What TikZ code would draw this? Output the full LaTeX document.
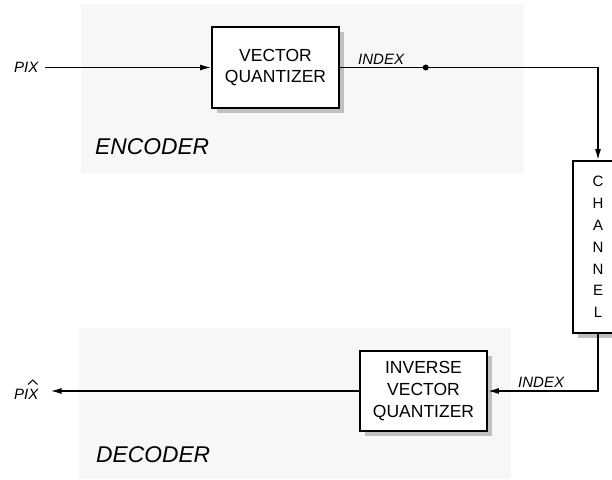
\documentclass[tikz,border=0pt]{standalone}
\usepackage{fontspec}
\setmainfont{Liberation Sans}
\usetikzlibrary{arrows.meta,shadows}
\definecolor{bgpanel}{HTML}{F7F7F7}
\definecolor{shadowgray}{HTML}{C0C0C0}
\tikzset{
  blockbox/.style={draw=black, line width=1.7pt, fill=white, align=center,
    font=\fontsize{17.5}{21.7}\selectfont, inner sep=0pt,
    drop shadow={shadow xshift=5pt, shadow yshift=-5pt, fill=shadowgray, opacity=1}},
  conn/.style={line width=1.5pt, draw=black},
  tip/.style={-{Latex[length=11pt,width=6pt]}},
  lbl/.style={font=\fontsize{15}{18}\selectfont\itshape, inner sep=0pt},
  biglbl/.style={font=\fontsize{22.8}{27}\selectfont\itshape, inner sep=0pt},
  panel/.style={fill=bgpanel, draw=none}
}
\begin{document}
\begin{tikzpicture}[x=1pt,y=-1pt]
\useasboundingbox (0,0) rectangle (612,479);
% panels
\fill[panel] (81,4) rectangle (524,173);
\fill[panel] (79,328) rectangle (511,479);
% blocks
\node[blockbox, minimum width=127pt, minimum height=81pt] (vq) at (275.5,67.5) {VECTOR\\QUANTIZER};
\node[blockbox, minimum width=127pt, minimum height=80pt] (ivq) at (423.5,391) {INVERSE\\VECTOR\\QUANTIZER};
\node[blockbox, minimum width=50pt, minimum height=172pt, font=\fontsize{15}{21.8}\selectfont] (chan) at (598,247) {C\\H\\A\\N\\N\\E\\L};
% labels
\node[lbl, anchor=west] (pix) at (14,67.5) {PIX};
\node[lbl, anchor=base west] (pixhat) at (14,399) {PIX};
\draw[line width=1pt] (28,384.5) -- (32.8,380) -- (37.5,384.5);
\node[lbl, anchor=base west] (idx1) at (358,64) {INDEX};
\node[lbl, anchor=base west] (idx2) at (518,387) {INDEX};
\node[biglbl, anchor=base west] (enc) at (95,154) {ENCODER};
\node[biglbl, anchor=base west] (dec) at (96,462) {DECODER};
% connectors
\coordinate (dot) at (425.7,67.5);
\coordinate (c1) at (598,67.5);
\coordinate (c2) at (598,391);
\draw[conn, tip, shorten <=6pt] (pix.east) -- (vq.west);
\draw[conn] (vq.east) -- (dot);
\fill (dot) circle (3pt);
\draw[conn, tip] (dot) -- (c1) -- (chan.north);
\draw[conn, tip] (chan.south) -- (c2) -- (ivq.east);
\draw[conn, tip, shorten >=12pt] (ivq.west) -- (ivq.west -| pixhat.east);
\end{tikzpicture}
\end{document}
